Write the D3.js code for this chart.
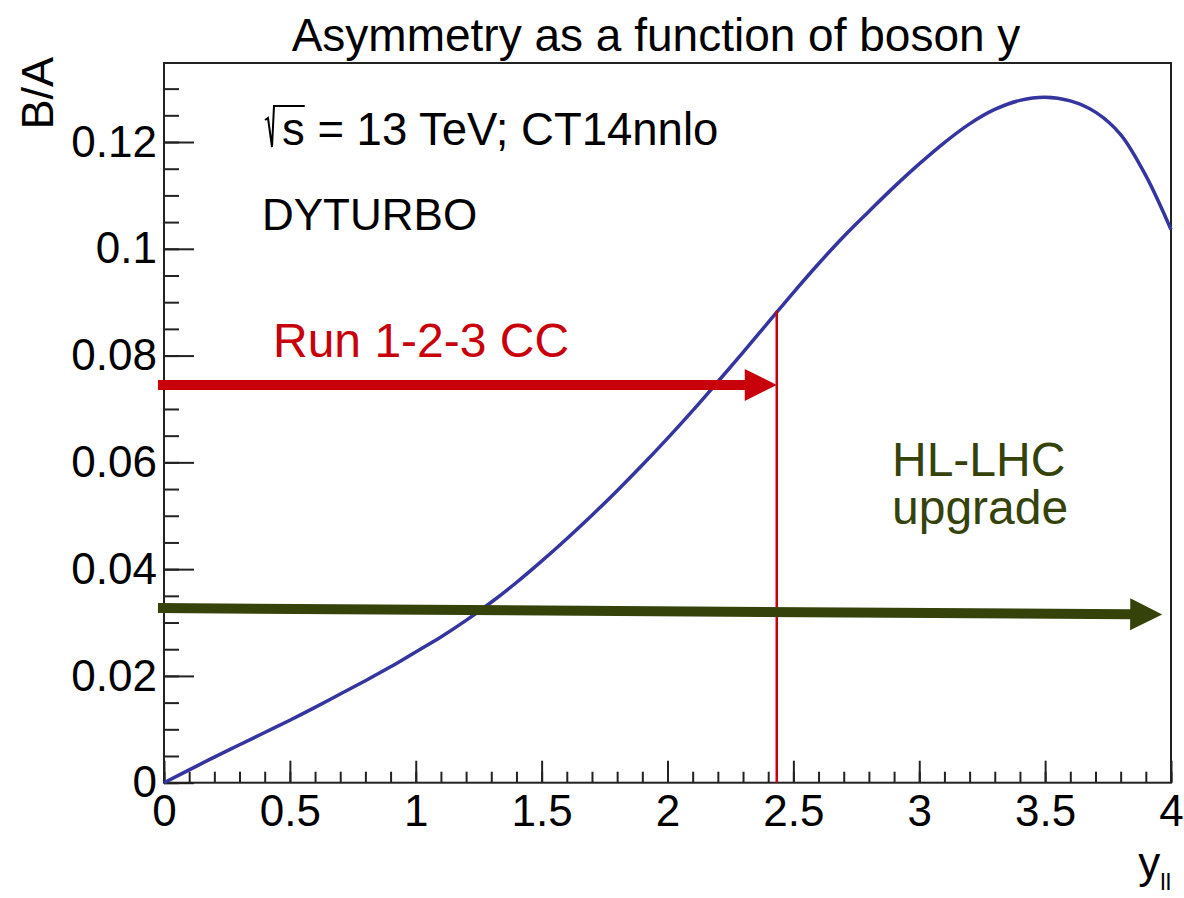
<!DOCTYPE html>
<html>
<head>
<meta charset="utf-8">
<script src="https://cdn.jsdelivr.net/npm/d3@7"></script>
<style>
  html, body { margin: 0; padding: 0; background: #fff; }
  svg { display: block; font-family: "Liberation Sans", Arial, Helvetica, sans-serif; }
</style>
</head>
<body>
<svg id="chart" width="1184" height="898"></svg>
<script>
// Boson rapidity y_ll and the B/A asymmetry ratio (DYTURBO, CT14nnlo, 13 TeV)
const rapidity = [0, 0.1, 0.2, 0.3, 0.4, 0.5, 0.6, 0.7, 0.8, 0.9, 1.0,
                  1.1, 1.2, 1.3, 1.4, 1.5, 1.6, 1.7, 1.8, 1.9, 2.0,
                  2.1, 2.2, 2.3, 2.4, 2.5, 2.6, 2.7, 2.8, 2.9, 3.0,
                  3.1, 3.2, 3.3, 3.4, 3.5, 3.6, 3.7, 3.8, 3.9, 4.0];
const ratioBA = [0, 0.0024, 0.0048, 0.0071, 0.0094, 0.0117, 0.0141, 0.0166, 0.0191, 0.0217, 0.0245,
                 0.0273, 0.0304, 0.0338, 0.0375, 0.0415, 0.0457, 0.0501, 0.0547, 0.0595, 0.0645,
                 0.0697, 0.0751, 0.0806, 0.0862, 0.0918, 0.0972, 0.1023, 0.1070, 0.1116, 0.1159,
                 0.1199, 0.1234, 0.1261, 0.1278, 0.1284, 0.1277, 0.1256, 0.1214, 0.1137, 0.1036];

// Axis ticks and labels
const xTickValues = [0, 0.5, 1, 1.5, 2, 2.5, 3, 3.5, 4];
const xTickLabels = ["0", "0.5", "1", "1.5", "2", "2.5", "3", "3.5", "4"];
const yTickValues = [0, 0.02, 0.04, 0.06, 0.08, 0.1, 0.12];
const yTickLabels = ["0", "0.02", "0.04", "0.06", "0.08", "0.1", "0.12"];

// Acceptance annotations (in axis units)
const ccEdge = 2.434;           // end of the central-central coverage
const ccEdgeTop = 0.0884;
const ccArrowY = 0.0745;
const hlArrowY = [0.0327, 0.0315];
const arrowStartX = -0.024;
const hlArrowEndX = 3.965;

const svg = d3.select("#chart");
const frameL = 164, frameR = 1171, frameT = 63, frameB = 782.7;

const x = d3.scaleLinear().domain([0, 4]).range([frameL, frameR]);
const y = d3.scaleLinear().domain([0, 0.1348]).range([frameB, frameT]);

const blue = "#35359f", red = "#c8000b", green = "#35420a";

// Title
svg.append("text")
  .attr("x", 656).attr("y", 51)
  .attr("text-anchor", "middle")
  .attr("font-size", 46)
  .text("Asymmetry as a function of boson y");

// Axes: major and minor ticks drawn inside the frame
function styleAxis(g) {
  g.selectAll("path.domain").remove();
  g.selectAll("line").attr("stroke", "#222").attr("stroke-width", 2);
  g.selectAll("text").attr("fill", "#000").attr("font-size", 44)
    .attr("font-family", "Liberation Sans, Arial, sans-serif");
}

svg.append("g")
  .attr("transform", `translate(0,${frameB})`)
  .call(d3.axisBottom(x).tickValues(d3.range(0, 4.0001, 0.1)).tickSizeInner(-11).tickSizeOuter(0).tickFormat(""))
  .call(styleAxis);
svg.append("g")
  .attr("transform", `translate(0,${frameB})`)
  .call(d3.axisBottom(x).tickValues(xTickValues).tickSizeInner(-22).tickSizeOuter(0).tickPadding(12)
        .tickFormat((d, i) => xTickLabels[i]))
  .call(styleAxis);

svg.append("g")
  .attr("transform", `translate(${frameL},0)`)
  .call(d3.axisLeft(y).tickValues(d3.range(0, 0.1301, 0.005)).tickSizeInner(-15).tickSizeOuter(0).tickFormat(""))
  .call(styleAxis);
svg.append("g")
  .attr("transform", `translate(${frameL},0)`)
  .call(d3.axisLeft(y).tickValues(yTickValues).tickSizeInner(-30).tickSizeOuter(0).tickPadding(7)
        .tickFormat((d, i) => yTickLabels[i]))
  .call(styleAxis);

// Frame
svg.append("rect")
  .attr("x", frameL).attr("y", frameT)
  .attr("width", frameR - frameL).attr("height", frameB - frameT)
  .attr("fill", "none").attr("stroke", "#222").attr("stroke-width", 2);

// Axis titles
svg.append("text")
  .attr("transform", `translate(53,${frameT - 6}) rotate(-90)`)
  .attr("text-anchor", "end")
  .attr("font-size", 45)
  .text("B/A");

const xt = svg.append("text")
  .attr("x", frameR).attr("y", 878)
  .attr("text-anchor", "end")
  .attr("font-size", 44);
xt.append("tspan").text("y");
xt.append("tspan").attr("font-size", 24).attr("dy", 12).text("ll");

// Curve
const pts = rapidity.map((d, i) => [d, ratioBA[i]]);
svg.append("path")
  .datum(pts)
  .attr("fill", "none")
  .attr("stroke", blue)
  .attr("stroke-width", 3.5)
  .attr("d", d3.line().x(d => x(d[0])).y(d => y(d[1])).curve(d3.curveCatmullRom.alpha(0.5)));

// Central-central edge
svg.append("line")
  .attr("x1", x(ccEdge)).attr("x2", x(ccEdge))
  .attr("y1", y(0)).attr("y2", y(ccEdgeTop))
  .attr("stroke", red).attr("stroke-width", 2.5);

function arrow(x0, y0, x1, y1, color) {
  const head = 32, half = 16, w = 10;
  const ang = Math.atan2(y1 - y0, x1 - x0);
  const bx = x1 - head * Math.cos(ang), by = y1 - head * Math.sin(ang);
  svg.append("line")
    .attr("x1", x0).attr("y1", y0).attr("x2", bx + Math.cos(ang)).attr("y2", by + Math.sin(ang))
    .attr("stroke", color).attr("stroke-width", w);
  const nx = -Math.sin(ang), ny = Math.cos(ang);
  svg.append("polygon")
    .attr("points", [[x1, y1], [bx + nx * half, by + ny * half], [bx - nx * half, by - ny * half]].map(p => p.join(",")).join(" "))
    .attr("fill", color);
}

arrow(x(arrowStartX), y(ccArrowY), x(ccEdge), y(ccArrowY), red);
arrow(x(arrowStartX), y(hlArrowY[0]), x(hlArrowEndX), y(hlArrowY[1]), green);

// Labels
svg.append("text")
  .attr("x", 273).attr("y", 357)
  .attr("font-size", 48).attr("fill", red)
  .text("Run 1-2-3 CC");

const hl = svg.append("text")
  .attr("x", 892).attr("y", 476)
  .attr("font-size", 48).attr("fill", green);
hl.append("tspan").attr("x", 892).text("HL-LHC");
hl.append("tspan").attr("x", 892).attr("dy", 48).text("upgrade");

// Info text with a square-root sign over s
const info = svg.append("text")
  .attr("x", 282).attr("y", 145)
  .attr("font-size", 45.5)
  .text("s = 13 TeV; CT14nnlo");
const sw = info.node().getSubStringLength(0, 1);
svg.append("path")
  .attr("d", `M265,120 L268,118 L272,147 L274,106 L${282 + sw},106`)
  .attr("fill", "none").attr("stroke", "#000").attr("stroke-width", 2);

svg.append("text")
  .attr("x", 262).attr("y", 230)
  .attr("font-size", 44)
  .text("DYTURBO");
</script>
</body>
</html>
